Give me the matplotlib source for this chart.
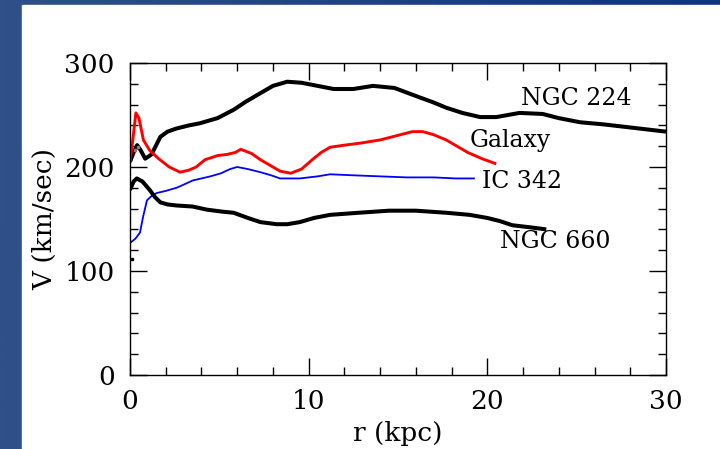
import numpy as np
import matplotlib
matplotlib.use("Agg")
import matplotlib.pyplot as plt
from matplotlib.patches import Rectangle

# rotation curves (r in kpc, V in km/sec)
r_224 = [0.0, 0.2, 0.4, 0.6, 0.85, 1.2, 1.7, 2.1, 2.6, 3.3, 3.9, 4.9, 5.8, 6.5, 7.3,
         8.0, 8.8, 9.6, 10.5, 11.4, 12.5, 13.6, 14.8, 16.2, 17.0, 17.7, 18.6, 19.6,
         20.5, 21.8, 23.1, 24.0, 25.2, 26.5, 28.0, 29.0, 30.0]
v_224 = [205, 214, 221, 216, 208, 212, 229, 234, 237, 240, 242, 247, 255, 263, 271,
         278, 282, 281, 278, 275, 275, 278, 276, 267, 262, 257, 252, 248,
         248, 252, 251, 247, 243, 241, 238, 236, 234]

r_gal = [0.0, 0.15, 0.33, 0.5, 0.75, 1.1, 1.6, 2.2, 2.8, 3.3, 3.7, 4.2, 4.9, 5.4, 5.9,
         6.2, 6.8, 7.3, 7.9, 8.4, 9.0, 9.6, 10.2, 10.7, 11.2, 12.0, 12.9, 14.0, 14.9,
         15.8, 16.4, 17.0, 17.7, 18.3, 18.9, 19.7, 20.5]
v_gal = [205, 225, 252, 247, 226, 216, 208, 200, 195, 197, 200, 207, 211, 212, 214,
         217, 213, 207, 201, 196, 194, 198, 207, 214, 219, 221, 223, 226, 230,
         234, 234, 231, 226, 220, 214, 208, 203]

r_342 = [0.0, 0.3, 0.56, 0.73, 0.95, 1.2, 1.5, 2.0, 2.6, 3.0, 3.5, 4.5, 5.1, 5.6, 6.0,
         6.6, 7.3, 7.9, 8.4, 9.5, 10.5, 11.2, 12.5, 14.0, 15.5, 17.0, 18.2, 19.3]
v_342 = [127, 131, 137, 152, 168, 172, 175, 177, 180, 183, 187, 191, 194, 198, 200,
         198, 195, 192, 189, 189, 191, 193, 192, 191, 190, 190, 189, 189]

r_660 = [0.0, 0.1, 0.2, 0.38, 0.7, 1.1, 1.4, 1.7, 2.1, 2.6, 3.5, 4.3, 5.2, 5.8, 6.6,
         7.3, 8.2, 8.8, 9.5, 10.3, 11.2, 12.8, 14.5, 16.0, 17.7, 19.0, 20.0, 20.7,
         21.4, 22.4, 23.3]
v_660 = [178, 182, 186, 189, 186, 178, 171, 166, 164, 163, 162, 159, 157, 156, 151,
         147, 145, 145, 147, 151, 154, 156, 158, 158, 156, 154, 151, 148,
         144, 142, 140]

labels = ["NGC 224", "Galaxy", "IC 342", "NGC 660"]
label_r = [21.9, 19.0, 19.7, 20.7]
label_v = [266, 225, 186, 128]

FONT = "DejaVu Serif"

fig = plt.figure(figsize=(7.2, 4.49), dpi=100)

# slide background: blue gradient band with a white panel on it
bg = fig.add_axes([0, 0, 1, 1])
grad = np.linspace(0, 1, 256).reshape(1, -1)
c0 = np.array([47, 80, 137]) / 255.0
c1 = np.array([14, 52, 128]) / 255.0
img = c0[None, None, :] * (1 - grad[..., None]) + c1[None, None, :] * grad[..., None]
bg.imshow(img, aspect="auto", extent=[0, 1, 0, 1])
bg.add_patch(Rectangle((22 / 720, 0), 1, 1 - 5 / 449, color="white", zorder=2))
bg.set_xlim(0, 1)
bg.set_ylim(0, 1)
bg.axis("off")

ax = fig.add_axes([130 / 720, 1 - 375 / 449, 536 / 720, 312 / 449])
ax.set_facecolor("white")

kw = dict(solid_joinstyle="round", solid_capstyle="butt")
ax.plot(r_224, v_224, color="black", lw=2.9, **kw)
ax.plot(r_gal, v_gal, color="#ff0000", lw=2.1, **kw)
ax.plot(r_342, v_342, color="#0000ff", lw=1.3, **kw)
ax.plot(r_660, v_660, color="black", lw=2.9, **kw)
# stray inner points near the centre
ax.plot([0.3, 0.45], [216, 219], ls="none", marker="s", ms=2, color="gray")
ax.plot([0.1], [112], ls="none", marker="s", ms=2, color="black")

for t, x, y in zip(labels, label_r, label_v):
    ax.text(x, y, t, fontsize=17, family=FONT, ha="left", va="center")

ax.set_xlim(0, 30)
ax.set_ylim(0, 300)
ax.set_xticks([0, 10, 20, 30])
ax.set_xticks(np.arange(0, 31, 2), minor=True)
ax.set_yticks([0, 100, 200, 300])
ax.set_yticks(np.arange(0, 301, 20), minor=True)
ax.tick_params(which="both", direction="in", top=True, right=True, width=1.0,
               labelsize=19, pad=10)
ax.tick_params(which="major", length=12)
ax.tick_params(which="minor", length=6)
ax.tick_params(axis="y", pad=11)
for lab in ax.get_xticklabels() + ax.get_yticklabels():
    lab.set_family(FONT)
for s in ax.spines.values():
    s.set_linewidth(1.0)

ax.set_xlabel("r (kpc)", fontsize=19, family=FONT, labelpad=5)
ax.set_ylabel("V (km/sec)", fontsize=19, family=FONT, labelpad=5)

fig.savefig("out.png", dpi=100)
